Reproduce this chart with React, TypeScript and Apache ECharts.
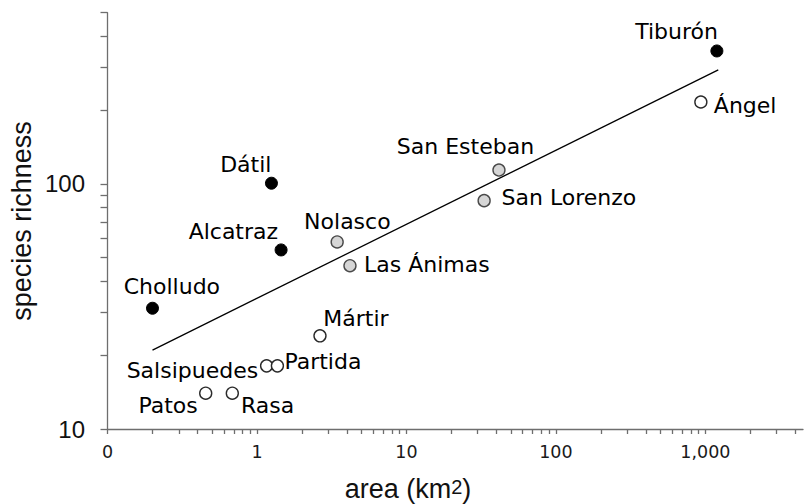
import React, { useEffect, useRef } from "react";
import * as echarts from "echarts";

// ---- data ----
const islandNames = ["Tiburón", "Ángel", "San Esteban", "San Lorenzo", "Nolasco", "Las Ánimas", "Dátil", "Alcatraz", "Cholludo", "Mártir", "Salsipuedes", "Partida", "Patos", "Rasa"];
const areaKm2 = [1194, 933, 41.6, 33.1, 3.44, 4.19, 1.25, 1.45, 0.2, 2.64, 1.16, 1.37, 0.454, 0.684];
const speciesRichness = [349, 216, 114, 85.5, 58, 46.4, 100.7, 53.8, 31.1, 24.0, 18.1, 18.1, 14.0, 14.0];
const islandGroup = ["filled", "open", "gray", "gray", "gray", "gray", "filled", "filled", "filled", "open", "open", "open", "open", "open"];

const fitArea = [0.2, 1220];
const fitRichness = [21, 292];

const xLabelValues = [0.1, 1, 10, 100, 1000];
const xLabelTexts = ["0", "1", "10", "100", "1,000"];
const yLabelValues = [10, 100];
const yLabelTexts = ["10", "100"];
const xTickValues = [
  0.1, 0.2, 0.3, 0.4, 0.5, 0.6, 0.7, 0.8, 0.9,
  1, 2, 3, 4, 5, 6, 7, 8, 9,
  10, 20, 30, 40, 50, 60, 70, 80, 90,
  100, 200, 300, 400, 500, 600, 700, 800, 900,
  1000, 2000, 3000, 4000,
];
const yTickValues = [10, 20, 30, 40, 50, 60, 70, 80, 90, 100, 200, 300, 400, 500];

// ---- label placement (layout only) ----
const labelPlacement: Record<string, [number, number, string]> = {
  "Tiburón": [1, -19.3, "right"],
  "Ángel": [13, 3, "left"],
  "San Esteban": [-33.5, -23.3, "center"],
  "San Lorenzo": [17.4, -2.7, "left"],
  "Nolasco": [10.2, -20.3, "center"],
  "Las Ánimas": [14, -0.7, "left"],
  "Dátil": [0, -19.2, "right"],
  "Alcatraz": [-3, -18.3, "right"],
  "Cholludo": [19.4, -21.6, "center"],
  "Mártir": [3.3, -17.5, "left"],
  "Salsipuedes": [-8.4, 4.3, "right"],
  "Partida": [7, -4, "left"],
  "Patos": [-8, 12.7, "right"],
  "Rasa": [8.7, 12, "left"],
};

const groupStyle: Record<string, { color: string; borderColor: string; borderWidth: number; opacity: number }> = {
  filled: { color: "#000000", borderColor: "#000000", borderWidth: 1, opacity: 1 },
  gray: { color: "#d6d6d6", borderColor: "#4a4a4a", borderWidth: 1.4, opacity: 1 },
  open: { color: "#ffffff", borderColor: "#2a2a2a", borderWidth: 1.4, opacity: 1 },
};

const labelFont = "DejaVu Sans";

function buildSeries(group: string) {
  const data: any[] = [];
  islandNames.forEach((name, i) => {
    if (islandGroup[i] !== group) return;
    const p = labelPlacement[name];
    data.push({
      name,
      value: [areaKm2[i], speciesRichness[i]],
      label: {
        show: true,
        position: "inside",
        formatter: name,
        align: p[2],
        verticalAlign: "middle",
        offset: [p[0], p[1]],
        color: "#000000",
        opacity: 1,
        fontFamily: labelFont,
        fontSize: 22,
      },
    });
  });
  return {
    type: "scatter",
    name: group,
    data,
    symbol: "circle",
    symbolSize: 12,
    itemStyle: groupStyle[group],
    emphasis: { disabled: true },
    z: 3,
  };
}

export default function App() {
  const ref = useRef<HTMLDivElement>(null);
  useEffect(() => {
    if (!ref.current) return;
    const chart = echarts.init(ref.current, null, { renderer: "svg" });
    const axisColor = "#6e6e6e";
    chart.setOption({
      animation: false,
      backgroundColor: "#ffffff",
      grid: { left: 107.5, top: 12.7, width: 695.5, height: 416.3 },
      xAxis: {
        type: "log",
        logBase: 10,
        min: 0.1,
        max: 4500,
        axisLine: { show: true, onZero: false, lineStyle: { color: axisColor, width: 1.3 } },
        axisTick: { show: true, inside: false, length: 5, customValues: xTickValues, lineStyle: { color: axisColor, width: 1.3 } },
        minorTick: { show: false },
        splitLine: { show: false },
        axisLabel: {
          customValues: xLabelValues,
          margin: 14,
          color: "#1a1a1a",
          fontFamily: labelFont,
          fontSize: 17.5,
          formatter: (v: number) => {
            const idx = xLabelValues.findIndex((t) => Math.abs(t - v) / t < 1e-6);
            return idx >= 0 ? xLabelTexts[idx] : "";
          },
        },
      },
      yAxis: {
        type: "log",
        logBase: 10,
        min: 10,
        max: 500,
        axisLine: { show: true, onZero: false, lineStyle: { color: axisColor, width: 1.3 } },
        axisTick: { show: true, inside: false, length: 7, customValues: yTickValues, lineStyle: { color: axisColor, width: 1.3 } },
        minorTick: { show: false },
        splitLine: { show: false },
        axisLabel: {
          customValues: yLabelValues,
          margin: 22.5,
          color: "#111111",
          fontFamily: "Liberation Sans",
          fontSize: 24,
          formatter: (v: number) => {
            const idx = yLabelValues.findIndex((t) => Math.abs(t - v) / t < 1e-6);
            return idx >= 0 ? yLabelTexts[idx] : "";
          },
        },
      },
      graphic: [
        {
          type: "text",
          x: 408,
          y: 489,
          style: {
            text: "{a|area (km}{s|2}{a|)}",
            align: "center",
            verticalAlign: "middle",
            fill: "#111111",
            rich: {
              a: { fontFamily: "Liberation Sans", fontSize: 27, fill: "#111111" },
              s: { fontFamily: "Liberation Sans", fontSize: 20, fill: "#111111", verticalAlign: "top", padding: [1, 0, 0, 0] },
            },
          },
        },
        {
          type: "text",
          x: 22,
          y: 221,
          rotation: Math.PI / 2,
          style: {
            text: "species richness",
            align: "center",
            verticalAlign: "middle",
            fontFamily: "Liberation Sans",
            fontSize: 27,
            fill: "#111111",
          },
        },
      ],
      series: [
        {
          type: "line",
          name: "fit",
          data: fitArea.map((a, i) => [a, fitRichness[i]]),
          symbol: "none",
          lineStyle: { color: "#000000", width: 1.3 },
          z: 2,
          silent: true,
        },
        buildSeries("filled"),
        buildSeries("gray"),
        buildSeries("open"),
      ],
    });
    return () => chart.dispose();
  }, []);
  return <div ref={ref} style={{ position: "fixed", left: 0, top: 0, width: 804, height: 504 }} />;
}
